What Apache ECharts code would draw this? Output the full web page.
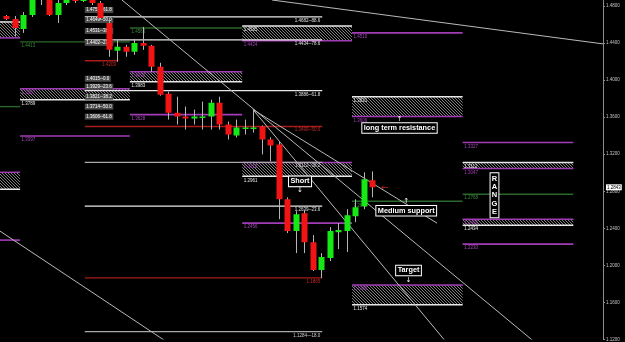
<!DOCTYPE html>
<html>
<head>
<meta charset="utf-8">
<script src="https://cdn.jsdelivr.net/npm/echarts@6/dist/echarts.min.js"></script>
<style>
  html, body { margin: 0; padding: 0; background: #000; }
  #chart { width: 625px; height: 342px; }
</style>
</head>
<body>
<div id="chart"></div>
<script>
// daily bars, [open, close, low, high]
const candles = [
  [1.4692, 1.4660, 1.4649, 1.4703], [1.4660, 1.4563, 1.4477, 1.4692],
  [1.4553, 1.4703, 1.4510, 1.4735], [1.4703, 1.4897, 1.4682, 1.4951],
  [1.4972, 1.5080, 1.4811, 1.5133], [1.4918, 1.4703, 1.4692, 1.4951],
  [1.4703, 1.4832, 1.4617, 1.4886], [1.4832, 1.4886, 1.4811, 1.4918],
  [1.4886, 1.4854, 1.4832, 1.4918], [1.4854, 1.4886, 1.4843, 1.4918],
  [1.4886, 1.4832, 1.4811, 1.4908], [1.4832, 1.4671, 1.4649, 1.4854],
  [1.4617, 1.4327, 1.4252, 1.4649], [1.4316, 1.4359, 1.4198, 1.4434],
  [1.4359, 1.4305, 1.4252, 1.4381], [1.4305, 1.4402, 1.4273, 1.4445],
  [1.4402, 1.4370, 1.4327, 1.4574], [1.4370, 1.4144, 1.4090, 1.4381],
  [1.4144, 1.3843, 1.3832, 1.4187], [1.3854, 1.3649, 1.3574, 1.3875],
  [1.3649, 1.3606, 1.3520, 1.3821], [1.3606, 1.3585, 1.3467, 1.3714],
  [1.3585, 1.3606, 1.3520, 1.3682], [1.3596, 1.3606, 1.3467, 1.3768],
  [1.3606, 1.3757, 1.3467, 1.3789], [1.3757, 1.3520, 1.3467, 1.3821],
  [1.3520, 1.3413, 1.3359, 1.3553], [1.3402, 1.3488, 1.3381, 1.3574],
  [1.3477, 1.3488, 1.3413, 1.3574], [1.3477, 1.3488, 1.3434, 1.3682],
  [1.3499, 1.3359, 1.3198, 1.3510], [1.3359, 1.3295, 1.3123, 1.3381],
  [1.3305, 1.2714, 1.2499, 1.3338], [1.2714, 1.2370, 1.2349, 1.2735],
  [1.2370, 1.2553, 1.2133, 1.2585], [1.2564, 1.2251, 1.2133, 1.2596],
  [1.2251, 1.1951, 1.1940, 1.2327], [1.1951, 1.2090, 1.1865, 1.2133],
  [1.2080, 1.2370, 1.2047, 1.2413], [1.2359, 1.2381, 1.2176, 1.2456],
  [1.2370, 1.2542, 1.2144, 1.2607], [1.2531, 1.2628, 1.2467, 1.2714],
  [1.2639, 1.2929, 1.2607, 1.3005], [1.2918, 1.2843, 1.2735, 1.3015]
];

const priceTicks = [1.12, 1.16, 1.20, 1.24, 1.28, 1.32, 1.36, 1.40, 1.44, 1.48];
const lastClose = candles[candles.length - 1][1];

// boxes: [fromBar, toBar, top, bottom, kind]  wp = white top/purple bottom, pw = the other way
const zones = [
  [-0.8, 1.6, 1.4628, 1.4456, 'wp'],
  [27.7, 40.6, 1.4585, 1.4424, 'wp'],
  [1.6, 14.5, 1.3907, 1.3789, 'pw'],
  [14.5, 27.7, 1.4090, 1.3983, 'pw'],
  [-0.8, 1.6, 1.3005, 1.2822, 'pw'],
  [27.7, 40.6, 1.3112, 1.2961, 'pw'],
  [40.6, 53.6, 1.3821, 1.3606, 'wp'],
  [53.6, 66.6, 1.3112, 1.3047, 'wp'],
  [53.6, 66.6, 1.2499, 1.2434, 'pw'],
  [40.6, 53.6, 1.1789, 1.1574, 'pw']
];

// single levels: [fromBar, toBar, price, kind]
const levels = [
  [1.6, 14.5, 1.4413, 'support'],
  [14.5, 27.7, 1.4563, 'support'],
  [40.6, 53.6, 1.4510, 'zone'],
  [9.2, 13.0, 1.4209, 'pivot'],
  [-0.8, 1.6, 1.3714, 'support'],
  [14.5, 27.7, 1.3628, 'zone'],
  [1.6, 14.5, 1.3397, 'zone'],
  [27.7, 40.6, 1.2456, 'zone'],
  [40.6, 53.6, 1.2692, 'support'],
  [53.6, 66.6, 1.3327, 'zone'],
  [53.6, 66.6, 1.2768, 'support'],
  [53.6, 66.6, 1.2230, 'zone'],
  [-0.8, 1.6, 1.2273, 'zone']
];

// fibonacci grid: [price, percent, kind]
const fibFrom = 9.2, fibTo = 37.1;
const fibs = [
  [1.4682, '88.6', 'fib'],
  [1.4434, '78.6', 'fib'],
  [1.3886, '61.8', 'fib'],
  [1.3499, '50.0', 'mid'],
  [1.3112, '38.2', 'ext'],
  [1.2639, '23.6', 'fib'],
  [1.1865, '', 'mid'],
  [1.1284, '-18.0', 'ext']
];

// boxed fib tags on the left: [price, percent]
const fibTagBar = 9.2;
const fibTags = [
  [1.4757, '61.8'], [1.4649, '50.0'], [1.4531, '38.2'], [1.4402, '23.6'],
  [1.4015, '0.0'], [1.3929, '23.6'], [1.3821, '38.2'], [1.3714, '50.0'], [1.3606, '61.8']
];

// trend lines: [bar1, price1, bar2, price2]
const trends = [
  [31.2, 1.4865, 70.1, 1.4391],
  [13.57, 1.4865, 61.87, 1.1187],
  [28.97, 1.3682, 51.53, 1.1187],
  [-0.76, 1.2370, 18.63, 1.1187],
  [28.97, 1.3682, 50.59, 1.2456]
];

// notes: [text, bar, price, arrow, arrowPrice]
const notes = [
  ['long term resistance', 46.18, 1.3483, '↑', 1.3574],
  ['Short', 34.49, 1.2907, '↓', 1.2811],
  ['Medium support', 46.97, 1.2590, '↑', 1.2692],
  ['Target', 47.24, 1.1945, '↓', 1.1843]
];
const rangeNote = ['RANGE', 57.34, 1.2757];
const pointer = ['←', 44.0, 1.2843];

const C = {
  white: '#e8e8e8', grey: '#a8a8a8', purple: '#a23cb6', green: '#2b662b',
  red: '#a81c1c', up: '#16e816', down: '#f01414', wick: '#b4b4b4'
};
const small = '4.5px "Liberation Sans"';
const levelStyle = {
  support: { color: C.green, label: '#3a8a3a', width: 1.4 },
  zone: { color: C.purple, label: '#a449b8', width: 1.6 },
  pivot: { color: C.red, label: '#c82828', width: 1.4, end: true }
};
const fibStyle = {
  fib: { color: C.white, label: '#e0e0e0' },
  mid: { color: C.red, label: '#c82828' },
  ext: { color: C.grey, label: '#cfcfcf' }
};

function makeHatch() {
  const c = document.createElement('canvas');
  c.width = 3; c.height = 3;
  const g = c.getContext('2d');
  g.strokeStyle = '#909090';
  g.lineWidth = 0.9;
  g.beginPath();
  g.moveTo(0, 0); g.lineTo(3, 3);
  g.moveTo(-1.5, 1.5); g.lineTo(1.5, 4.5);
  g.moveTo(1.5, -1.5); g.lineTo(4.5, 1.5);
  g.stroke();
  return c;
}
const hatch = { image: makeHatch(), repeat: 'repeat' };

function zoneItem(params, api) {
  const z = zones[params.dataIndex];
  const a = api.coord([z[0], z[2]]);
  const b = api.coord([z[1], z[3]]);
  const topC = z[4] === 'wp' ? C.white : C.purple;
  const botC = z[4] === 'wp' ? C.purple : C.white;
  const kids = [
    { type: 'rect', shape: { x: a[0], y: a[1], width: b[0] - a[0], height: b[1] - a[1] }, style: { fill: hatch } },
    { type: 'line', shape: { x1: a[0], y1: a[1], x2: b[0], y2: a[1] }, style: { stroke: topC, lineWidth: 1.5 } },
    { type: 'line', shape: { x1: a[0], y1: b[1], x2: b[0], y2: b[1] }, style: { stroke: botC, lineWidth: 1.5 } }
  ];
  if (z[0] > 0) {
    kids.push({ type: 'text', x: a[0] + 1.5, y: a[1] + 1.5, style: { text: z[2].toFixed(4), fill: topC, font: small, align: 'left', verticalAlign: 'top' } });
    kids.push({ type: 'text', x: a[0] + 1.5, y: b[1] + 1.5, style: { text: z[3].toFixed(4), fill: botC, font: small, align: 'left', verticalAlign: 'top' } });
  }
  return { type: 'group', children: kids };
}

function levelItem(params, api) {
  const d = levels[params.dataIndex];
  const st = levelStyle[d[3]];
  const a = api.coord([d[0], d[2]]);
  const b = api.coord([d[1], d[2]]);
  const kids = [{ type: 'line', shape: { x1: a[0], y1: a[1], x2: b[0], y2: b[1] }, style: { stroke: st.color, lineWidth: st.width } }];
  if (d[0] > 0) {
    kids.push({ type: 'text', x: st.end ? b[0] - 1 : a[0] + 1.5, y: a[1] + 1.5,
      style: { text: d[2].toFixed(4), fill: st.label, font: small, align: st.end ? 'right' : 'left', verticalAlign: 'top' } });
  }
  return { type: 'group', children: kids };
}

function fibItem(params, api) {
  const f = fibs[params.dataIndex];
  const st = fibStyle[f[2]];
  const a = api.coord([fibFrom, f[0]]);
  const b = api.coord([fibTo, f[0]]);
  const txt = f[1] ? f[0].toFixed(4) + '--' + f[1] : f[0].toFixed(4);
  return { type: 'group', children: [
    { type: 'line', shape: { x1: a[0], y1: a[1], x2: b[0], y2: b[1] }, style: { stroke: st.color, lineWidth: f[2] === 'mid' ? 1.4 : 1.2 } },
    { type: 'text', x: b[0] - 2, y: a[1] + 1.2, style: { text: txt, fill: st.label, font: small, align: 'right', verticalAlign: 'top' } }
  ] };
}

function tagItem(params, api) {
  const t = fibTags[params.dataIndex];
  const p = api.coord([fibTagBar, t[0]]);
  return { type: 'text', x: p[0], y: p[1], style: {
    text: t[0].toFixed(4) + '--' + t[1], fill: '#ffffff', font: small, align: 'left', verticalAlign: 'middle',
    backgroundColor: '#4a4a4a', padding: [0.5, 1.5] } };
}

function trendItem(params, api) {
  const t = trends[params.dataIndex];
  const a = api.coord([t[0], t[1]]);
  const b = api.coord([t[2], t[3]]);
  return { type: 'line', shape: { x1: a[0], y1: a[1], x2: b[0], y2: b[1] }, style: { stroke: '#b9b9b9', lineWidth: 1 } };
}

function candleItem(params, api) {
  const i = api.value(0);
  const o = api.coord([i, api.value(1)]);
  const c = api.coord([i, api.value(2)]);
  const l = api.coord([i, api.value(3)]);
  const h = api.coord([i, api.value(4)]);
  const x = Math.round(o[0]) + 0.5;
  const top = Math.min(o[1], c[1]);
  const hgt = Math.max(1.5, Math.abs(o[1] - c[1]));
  const col = api.value(2) >= api.value(1) ? C.up : C.down;
  return { type: 'group', children: [
    { type: 'line', shape: { x1: x, y1: h[1], x2: x, y2: l[1] }, style: { stroke: C.wick, lineWidth: 1 } },
    { type: 'rect', shape: { x: x - 3, y: top, width: 6, height: hgt }, style: { fill: col } }
  ] };
}

function noteItem(params, api) {
  const n = notes[params.dataIndex];
  const p = api.coord([n[1], n[2]]);
  const q = api.coord([n[1], n[4]]);
  return { type: 'group', children: [
    { type: 'text', x: p[0], y: p[1], style: {
      text: n[0], fill: '#ffffff', font: 'bold 7.3px "Liberation Sans"', align: 'center', verticalAlign: 'middle',
      backgroundColor: '#000', borderColor: '#ffffff', borderWidth: 1, padding: [1.5, 1.5, 1, 1.5] } },
    { type: 'text', x: q[0], y: q[1], style: { text: n[3], fill: '#ffffff', font: '7px "DejaVu Sans"', align: 'center', verticalAlign: 'middle' } }
  ] };
}

function extraItem(params, api) {
  const r = api.coord([rangeNote[1], rangeNote[2]]);
  const pt = api.coord([pointer[1], pointer[2]]);
  return { type: 'group', children: [
    { type: 'text', x: r[0], y: r[1], style: {
      text: rangeNote[0].split('').join('\n'), fill: '#ffffff', font: 'bold 7.5px "Liberation Sans"', lineHeight: 8.4,
      align: 'center', verticalAlign: 'middle', backgroundColor: '#000', borderColor: '#ffffff', borderWidth: 1, padding: [1, 1] } },
    { type: 'text', x: pt[0], y: pt[1], style: { text: pointer[0], fill: '#b82020', font: '9px "DejaVu Sans"', align: 'left', verticalAlign: 'middle' } }
  ] };
}

const chart = echarts.init(document.getElementById('chart'), null, { renderer: 'canvas', devicePixelRatio: 1 });
chart.setOption({
  backgroundColor: '#000000',
  animation: false,
  grid: { left: 0, right: 22, top: 0, bottom: 1 },
  xAxis: { type: 'value', min: -0.76, max: 70.09, show: false },
  yAxis: {
    type: 'value', position: 'right', min: 1.12, max: 1.4865,
    axisLine: { show: true, onZero: false, lineStyle: { color: '#8c8c8c', width: 1 } },
    axisTick: { show: true, length: 2, lineStyle: { color: '#8c8c8c' }, customValues: priceTicks },
    splitLine: { show: false },
    axisLabel: {
      customValues: priceTicks.concat([lastClose]),
      margin: 3, color: '#c4c4c4', fontSize: 4.5, fontFamily: 'Liberation Sans',
      formatter: v => Math.abs(v - lastClose) < 1e-6 ? '{cur|' + v.toFixed(4) + '}' : v.toFixed(4),
      rich: { cur: { backgroundColor: '#ffffff', color: '#000000', fontSize: 4.5, fontFamily: 'Liberation Sans', padding: [0.5, 1] } }
    }
  },
  series: [
    { type: 'custom', name: 'zones', renderItem: zoneItem, data: zones.map(z => [z[0], z[1], z[2], z[3]]), encode: { x: [0, 1], y: [2, 3] }, z: 1 },
    { type: 'custom', name: 'levels', renderItem: levelItem, data: levels.map(d => [d[0], d[1], d[2]]), encode: { x: [0, 1], y: 2 }, z: 2 },
    { type: 'custom', name: 'fib', renderItem: fibItem, data: fibs.map(f => [fibFrom, fibTo, f[0]]), encode: { x: [0, 1], y: 2 }, z: 2 },
    { type: 'custom', name: 'fibTags', renderItem: tagItem, data: fibTags.map(t => [fibTagBar, t[0]]), encode: { x: 0, y: 1 }, z: 3 },
    { type: 'custom', name: 'trends', renderItem: trendItem, data: trends, encode: { x: [0, 2], y: [1, 3] }, clip: true, z: 3 },
    { type: 'custom', name: 'bars', renderItem: candleItem, data: candles.map((c, i) => [i].concat(c)), encode: { x: 0, y: [1, 2, 3, 4] }, clip: true, z: 4 },
    { type: 'custom', name: 'notes', renderItem: noteItem, data: notes.map(n => [n[1], n[2]]), encode: { x: 0, y: 1 }, z: 5 },
    { type: 'custom', name: 'extra', renderItem: extraItem, data: [[rangeNote[1], rangeNote[2]]], encode: { x: 0, y: 1 }, z: 5 }
  ]
});
</script>
</body>
</html>
